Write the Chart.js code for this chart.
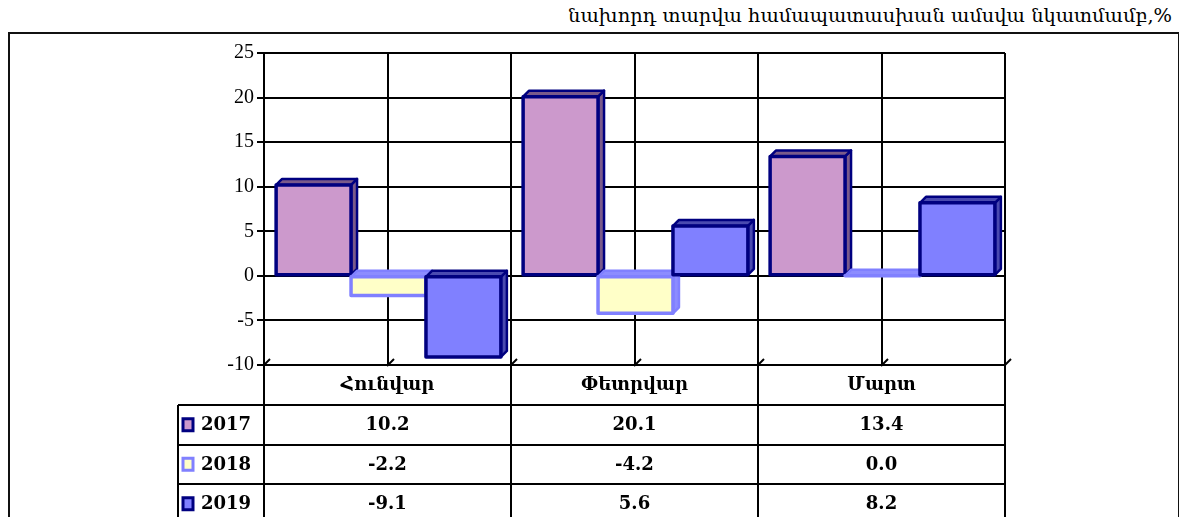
<!DOCTYPE html>
<html>
<head>
<meta charset="utf-8">
<script src="https://cdn.jsdelivr.net/npm/chart.js@4"></script>
<style>
  body { margin: 0; background: #fff; }
  #wrap { position: relative; width: 1179px; height: 517px; overflow: hidden; }
  #frame { position: absolute; left: 8px; top: 32px; width: 1168px; height: 520px; border: 2px solid #111; }
  #title { position: absolute; right: 7px; top: 4px; font: 19.4px 'DejaVu Serif', serif; color: #000; white-space: nowrap; }
  #box { position: absolute; left: 0; top: 0; width: 1179px; height: 517px; }
</style>
</head>
<body>
<div id="wrap">
  <div id="frame"></div>
  <div id="title">նախորդ տարվա համապատասխան ամսվա նկատմամբ,%</div>
  <div id="box"><canvas id="chart"></canvas></div>
</div>
<script>
// ---- data ----
const months = ['Հունվար', 'Փետրվար', 'Մարտ'];
const years = ['2017', '2018', '2019'];
const v2017 = [10.2, 20.1, 13.4];
const v2018 = [-2.2, -4.2, 0.0];
const v2019 = [-9.1, 5.6, 8.2];
const yMin = -10, yMax = 25, yStep = 5;

const fills = ['#CC99CC', '#FFFFC8', '#8080FF'];
const sides = ['#7a5a8a', '#8c8cff', '#4a4ab0'];
const edges = ['#000080', '#8080FF', '#000080'];
const DEPTH = 6;
const HEAD_H = 40, ROW_H = 39.5;

// draws 3D bars in series order, grid + data table
const excel3d = {
  id: 'excel3d',
  beforeDatasetsDraw(chart) {
    const ctx = chart.ctx;
    const a = chart.chartArea;
    const half = (a.right - a.left) / months.length / 2;

    ctx.save();
    ctx.strokeStyle = '#000';
    ctx.lineWidth = 2;
    for (let k = 1; k <= months.length * 2; k++) {
      const x = Math.round(a.left + k * half);
      ctx.beginPath(); ctx.moveTo(x, a.top); ctx.lineTo(x, a.bottom); ctx.stroke();
    }
    for (let k = 0; k <= months.length * 2; k++) {
      const x = Math.round(a.left + k * half);
      ctx.beginPath(); ctx.moveTo(x - 1, a.bottom + 1); ctx.lineTo(x + 6, a.bottom - 6); ctx.stroke();
    }

    chart.data.datasets.forEach((ds, i) => {
      const meta = chart.getDatasetMeta(i);
      meta.data.forEach(bar => {
        const p = bar.getProps(['x', 'y', 'base', 'width'], true);
        const l = p.x - p.width / 2 + 1, r = p.x + p.width / 2 + 1;
        const t = Math.min(p.y, p.base), b = Math.max(p.y, p.base);
        ctx.lineJoin = 'round';
        ctx.strokeStyle = edges[i];
        ctx.lineWidth = 2.5;
        // side
        ctx.fillStyle = sides[i];
        ctx.beginPath();
        ctx.moveTo(r, t); ctx.lineTo(r + DEPTH, t - DEPTH); ctx.lineTo(r + DEPTH, b - DEPTH); ctx.lineTo(r, b);
        ctx.closePath(); ctx.fill(); ctx.stroke();
        // top
        ctx.beginPath();
        ctx.moveTo(l, t); ctx.lineTo(l + DEPTH, t - DEPTH); ctx.lineTo(r + DEPTH, t - DEPTH); ctx.lineTo(r, t);
        ctx.closePath(); ctx.fill(); ctx.stroke();
        // front
        ctx.fillStyle = fills[i];
        ctx.fillRect(l, t, r - l, b - t);
        ctx.lineWidth = 3.5;
        ctx.strokeRect(l, t, r - l, b - t);
      });
    });
    ctx.restore();
    return false;
  },
  afterDraw(chart) {
    const ctx = chart.ctx;
    const a = chart.chartArea;
    const xs = chart.scales.x;
    const cat = (a.right - a.left) / months.length;
    const legL = 178;
    const yHead = a.bottom, yRow0 = a.bottom + HEAD_H;

    ctx.save();
    ctx.strokeStyle = '#000';
    ctx.lineWidth = 2;
    // horizontal lines
    ctx.beginPath(); ctx.moveTo(a.left, yHead); ctx.lineTo(a.right, yHead); ctx.stroke();
    for (let r = 0; r < years.length; r++) {
      const y = Math.round(yRow0 + r * ROW_H);
      ctx.beginPath(); ctx.moveTo(legL, y); ctx.lineTo(a.right, y); ctx.stroke();
    }
    // vertical lines
    for (let c = 0; c <= months.length; c++) {
      const x = Math.round(a.left + c * cat);
      ctx.beginPath(); ctx.moveTo(x, c === 0 || c === months.length ? a.top : yHead); ctx.lineTo(x, chart.height + 5); ctx.stroke();
    }
    ctx.beginPath(); ctx.moveTo(legL, yRow0); ctx.lineTo(legL, chart.height + 5); ctx.stroke();

    ctx.fillStyle = '#000';
    ctx.textAlign = 'center';
    ctx.textBaseline = 'middle';
    ctx.font = 'bold 18px "DejaVu Serif", serif';
    months.forEach((m, c) => ctx.fillText(m, xs.getPixelForValue(c), yHead + HEAD_H / 2));

    chart.data.datasets.forEach((ds, r) => {
      const yc = yRow0 + r * ROW_H + ROW_H / 2 + 1;
      ds.data.forEach((v, c) => {
        ctx.fillStyle = '#000';
        ctx.fillText(v.toFixed(1), xs.getPixelForValue(c), yc);
      });
      // legend key
      ctx.fillStyle = fills[r];
      ctx.strokeStyle = edges[r];
      ctx.lineWidth = 3;
      ctx.fillRect(183, yc - 7, 10, 12);
      ctx.strokeRect(183, yc - 7, 10, 12);
      ctx.fillStyle = '#000';
      ctx.textAlign = 'left';
      ctx.fillText(ds.label, 201, yc);
      ctx.textAlign = 'center';
    });
    ctx.restore();
  }
};

new Chart(document.getElementById('chart'), {
  type: 'bar',
  data: {
    labels: months,
    datasets: [
      { label: years[0], data: v2017, backgroundColor: fills[0], borderColor: edges[0], borderWidth: 3 },
      { label: years[1], data: v2018, backgroundColor: fills[1], borderColor: edges[1], borderWidth: 3 },
      { label: years[2], data: v2019, backgroundColor: fills[2], borderColor: edges[2], borderWidth: 3 }
    ]
  },
  options: {
    responsive: true,
    maintainAspectRatio: false,
    animation: false,
    layout: { padding: { top: 53, right: 174, bottom: 152, left: 0 } },
    datasets: { bar: { categoryPercentage: 0.91, barPercentage: 1.0 } },
    plugins: { legend: { display: false }, tooltip: { enabled: false } },
    scales: {
      x: { display: false },
      y: {
        min: yMin, max: yMax,
        afterFit(s) { s.width = 264; },
        ticks: { stepSize: yStep, color: '#000', padding: 3, font: { family: 'Liberation Serif', size: 20 } },
        grid: { color: '#000', lineWidth: 2, tickLength: 7 },
        border: { color: '#000', width: 2 }
      }
    }
  },
  plugins: [excel3d]
});
</script>
</body>
</html>
